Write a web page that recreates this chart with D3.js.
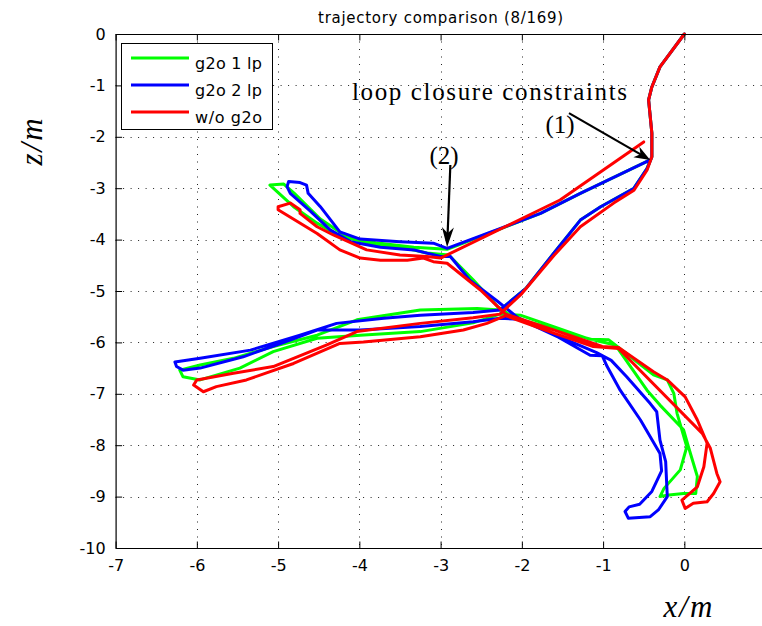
<!DOCTYPE html>
<html><head><meta charset="utf-8">
<script src="https://cdn.jsdelivr.net/npm/d3@7/dist/d3.min.js"></script>
<style>body{margin:0;background:#fff}svg{display:block}</style>
</head><body>
<svg id="chart" width="762" height="626"></svg>
<script>
// ---- data (x, z in metres) ----
const xTicks = [-7,-6,-5,-4,-3,-2,-1,0];
const yTicks = [0,-1,-2,-3,-4,-5,-6,-7,-8,-9,-10];
const seriesNames = ["g2o 1 lp","g2o 2 lp","w/o g2o"];
const seriesColors = ["#00ff00","#0000ff","#ff0000"];

const green = [
[0,0],[-0.30,-0.64],[-0.40,-1.03],[-0.44,-1.28],[-0.40,-1.93],[-0.40,-2.39],[-0.46,-2.62],[-0.62,-3.0],[-1.03,-3.36],[-1.28,-3.62],[-1.6,-4.25],[-1.95,-4.95],[-2.27,-5.37],
[-2.55,-5.34],[-3.25,-5.37],[-4.03,-5.56],[-4.52,-5.86],[-5.06,-6.08],[-5.55,-6.31],[-5.96,-6.44],[-6.21,-6.54],[-6.17,-6.67],[-5.96,-6.73],[-5.47,-6.50],[-5.06,-6.18],[-4.52,-5.92],[-3.99,-5.86],[-3.25,-5.79],[-2.6,-5.62],[-2.27,-5.45],
[-2.02,-5.47],[-1.6,-5.7],[-1.16,-5.94],[-0.93,-5.95],[-0.85,-6.05],[-0.46,-6.93],[-0.30,-7.22],[-0.01,-7.70],[0.05,-8.03],[0.16,-8.61],[0.14,-8.94],[-0.01,-8.94],[-0.19,-8.97],[-0.30,-9.0],[-0.25,-8.84],[-0.05,-8.48],[0.03,-8.03],[-0.09,-7.38],[-0.13,-6.99],[-0.21,-6.73],[-0.38,-6.63],[-0.85,-6.05],[-1.05,-5.98],[-1.6,-5.75],[-2.1,-5.52],
[-2.3,-5.3],[-2.6,-4.78],[-2.9,-4.3],
[-3.17,-4.26],[-3.5,-4.14],[-3.74,-4.11],[-4.24,-3.94],[-4.52,-3.68],[-4.81,-3.36],[-5.10,-2.94],[-4.93,-2.92],[-4.8,-3.1],[-4.48,-3.6],[-4.15,-3.95],[-3.8,-4.06],[-3.33,-4.15],[-2.92,-4.19],
[-1.77,-3.49],[-1.28,-3.10],[-0.42,-2.45]
];

const blue = [
[0,0],[-0.30,-0.64],[-0.40,-1.03],[-0.44,-1.28],[-0.40,-1.93],[-0.40,-2.39],[-0.46,-2.62],[-0.62,-3.0],[-1.03,-3.36],[-1.28,-3.62],[-1.6,-4.25],[-1.95,-4.95],[-2.27,-5.37],
[-2.6,-5.42],[-3.25,-5.47],[-3.7,-5.53],[-4.28,-5.63],[-4.73,-5.86],[-5.34,-6.15],[-5.96,-6.31],[-6.27,-6.38],[-6.25,-6.47],[-6.17,-6.54],[-5.96,-6.50],[-5.43,-6.28],[-5.02,-6.05],[-4.52,-5.76],[-3.99,-5.76],[-3.25,-5.69],[-2.6,-5.6],[-2.27,-5.53],
[-2.02,-5.55],[-1.55,-5.9],[-1.16,-6.25],[-1.01,-6.26],[-0.95,-6.47],[-0.79,-6.93],[-0.54,-7.51],[-0.30,-8.16],[-0.28,-8.5],[-0.40,-8.9],[-0.55,-9.15],[-0.68,-9.2],[-0.73,-9.29],[-0.69,-9.42],[-0.42,-9.39],[-0.32,-9.26],[-0.21,-9.0],[-0.23,-8.32],[-0.30,-7.90],[-0.34,-7.35],[-0.42,-7.19],[-0.71,-6.67],[-0.9,-6.35],[-1.08,-6.2],[-1.6,-5.85],[-2.05,-5.52],
[-2.3,-5.2],[-2.64,-4.79],[-2.88,-4.33],
[-3.0,-4.33],[-3.33,-4.20],[-3.74,-4.15],[-4.11,-4.04],[-4.36,-3.81],[-4.6,-3.45],[-4.85,-3.10],[-4.89,-2.97],[-4.87,-2.87],[-4.73,-2.89],[-4.65,-2.94],[-4.63,-3.10],[-4.48,-3.36],[-4.24,-3.85],[-3.99,-3.99],[-3.50,-4.04],[-3.09,-4.07],[-2.92,-4.17],
[-1.77,-3.49],[-1.28,-3.10],[-0.42,-2.45]
];

const red = [
[0,0],[-0.30,-0.64],[-0.40,-1.03],[-0.44,-1.28],[-0.40,-1.93],[-0.40,-2.39],[-0.46,-2.65],[-0.62,-3.04],[-0.87,-3.29],[-1.28,-3.75],[-1.6,-4.3],[-2.0,-5.05],[-2.27,-5.45],
[-2.6,-5.52],[-3.25,-5.63],[-4.03,-5.79],[-4.40,-6.05],[-5.06,-6.47],[-5.55,-6.60],[-6.0,-6.73],[-6.04,-6.83],[-5.92,-6.96],[-5.76,-6.86],[-5.39,-6.73],[-4.81,-6.41],[-4.24,-6.02],[-3.95,-5.99],[-3.25,-5.89],[-2.72,-5.76],[-2.43,-5.63],[-2.2,-5.48],
[-1.61,-5.82],[-1.12,-6.08],[-0.81,-6.12],[0.22,-7.77],[0.32,-8.06],[0.40,-8.55],[0.44,-8.71],[0.36,-8.94],[0.28,-9.10],[0.11,-9.13],[0.01,-9.23],[-0.03,-9.07],[0.16,-8.81],[0.24,-8.42],[0.28,-7.96],[0.16,-7.51],[0.01,-7.06],[-0.21,-6.73],[-0.38,-6.57],[-0.81,-6.10],[-1.01,-6.08],[-1.6,-5.76],[-2.2,-5.45],
[-2.51,-4.98],[-2.92,-4.46],
[-3.09,-4.43],[-3.21,-4.36],[-3.41,-4.40],[-3.74,-4.40],[-3.99,-4.36],[-4.24,-4.20],[-4.52,-3.88],[-5.0,-3.42],[-5.0,-3.36],[-4.85,-3.29],[-4.73,-3.42],[-4.73,-3.49],[-4.52,-3.75],[-4.32,-3.91],[-3.91,-4.20],[-3.50,-4.30],[-3.17,-4.33],[-3.0,-4.36],
[-1.53,-3.23],[-0.50,-2.10]
];

// annotation anchor points (data coords): arrow start/end
const arrow1 = [[-1.42,-1.54],[-0.42,-2.45]];
const arrow2 = [[-2.88,-2.55],[-2.92,-4.15]];

// ---- drawing ----
const svg = d3.select("#chart");
const L = 115.6, R = 765.6, T = 34, B = 548;
const x = d3.scaleLinear().domain([-7,1]).range([L,R]);
const y = d3.scaleLinear().domain([-10,0]).range([B,T]);
const sans = "'DejaVu Sans', sans-serif";
const serif = "'Liberation Serif', 'Times New Roman', serif";

// grid
const grid = svg.append("g").attr("stroke","#222").attr("stroke-width",1).attr("stroke-dasharray","1,6.5");
grid.selectAll(".gx").data(xTicks.filter(d=>d>-7)).enter().append("line")
  .attr("x1",d=>Math.round(x(d))+0.5).attr("x2",d=>Math.round(x(d))+0.5).attr("y1",T).attr("y2",B);
grid.selectAll(".gy").data(yTicks.filter(d=>d<0&&d>-10)).enter().append("line")
  .attr("y1",d=>Math.round(y(d))+0.5).attr("y2",d=>Math.round(y(d))+0.5).attr("x1",L).attr("x2",R);

// series
const line = d3.line().x(d=>x(d[0])).y(d=>y(d[1]));
[green,blue,red].forEach((s,i)=>{
  svg.append("path").attr("d",line(s)).attr("fill","none")
    .attr("stroke",seriesColors[i]).attr("stroke-width",3)
    .attr("stroke-linejoin","round").attr("stroke-linecap","round");
});

// axes
const tickLen = 6.5;
const axB = svg.append("g").attr("transform",`translate(0,${B})`)
  .call(d3.axisBottom(x).tickValues(xTicks).tickSizeInner(-tickLen).tickSizeOuter(0).tickPadding(12).tickFormat(d=>String(d)));
const axT = svg.append("g").attr("transform",`translate(0,${T})`)
  .call(d3.axisTop(x).tickValues(xTicks).tickSizeInner(-tickLen).tickSizeOuter(0).tickFormat(""));
const axL = svg.append("g").attr("transform",`translate(${L},0)`)
  .call(d3.axisLeft(y).tickValues(yTicks).tickSizeInner(-tickLen).tickSizeOuter(0).tickPadding(10).tickFormat(d=>String(d)));
[axB,axT,axL].forEach(a=>{
  a.select(".domain").attr("stroke","#000").attr("stroke-width",1.2);
  a.selectAll(".tick line").attr("stroke","#000").attr("stroke-width",1);
  a.selectAll("text").attr("font-family",sans).attr("font-size",16).attr("fill","#000");
});
axB.selectAll("text").attr("dy","0.71em");

// title
svg.append("text").attr("x",(L+R)/2).attr("y",23).attr("text-anchor","middle")
  .attr("font-family",sans).attr("font-size",15).attr("textLength",245).attr("lengthAdjust","spacing")
  .text("trajectory comparison (8/169)");

// axis labels
svg.append("text").attr("x",689).attr("y",617).attr("text-anchor","middle")
  .attr("font-family",serif).attr("font-style","italic").attr("font-size",31)
  .attr("letter-spacing",2).text("x/m");
svg.append("text").attr("transform","translate(42,141) rotate(-90)").attr("text-anchor","middle")
  .attr("font-family",serif).attr("font-style","italic").attr("font-size",31)
  .attr("letter-spacing",2).text("z/m");

// legend
const lg = svg.append("g");
lg.append("rect").attr("x",121.5).attr("y",43.5).attr("width",151).attr("height",86)
  .attr("fill","#fff").attr("stroke","#000").attr("stroke-width",1);
seriesNames.forEach((n,i)=>{
  const yy = 58 + i*27;
  lg.append("line").attr("x1",131).attr("x2",189).attr("y1",yy).attr("y2",yy)
    .attr("stroke",seriesColors[i]).attr("stroke-width",2.8);
  lg.append("text").attr("x",195).attr("y",yy+10.5).attr("font-family",sans).attr("font-size",16)
    .attr("textLength",67).attr("lengthAdjust","spacing").text(n);
});

// annotations
svg.append("text").attr("x",352).attr("y",100).attr("font-family",serif).attr("font-size",25)
  .attr("textLength",275).attr("lengthAdjust","spacing").text("loop closure constraints");
svg.append("text").attr("x",560).attr("y",133).attr("text-anchor","middle").attr("font-family",serif).attr("font-size",25)
  .text("(1)");
svg.append("text").attr("x",444).attr("y",164).attr("text-anchor","middle").attr("font-family",serif).attr("font-size",25)
  .text("(2)");

function arrow(a, headLen, headW){
  const x1=x(a[0][0]), y1=y(a[0][1]), x2=x(a[1][0]), y2=y(a[1][1]);
  const ang = Math.atan2(y2-y1,x2-x1);
  const ux=Math.cos(ang), uy=Math.sin(ang), px=-uy, py=ux;
  const bx=x2-ux*headLen, by=y2-uy*headLen;
  svg.append("line").attr("x1",x1).attr("y1",y1).attr("x2",x2-ux*headLen*0.6).attr("y2",y2-uy*headLen*0.6)
    .attr("stroke","#000").attr("stroke-width",2.2);
  const pts=[[x2,y2],[bx+px*headW,by+py*headW],[x2-ux*headLen*0.7,y2-uy*headLen*0.7],[bx-px*headW,by-py*headW]];
  svg.append("path").attr("d","M"+pts.map(p=>p.join(",")).join("L")+"Z").attr("fill","#000");
}
arrow(arrow1,16,6);
arrow(arrow2,20,6);
</script>
</body></html>
